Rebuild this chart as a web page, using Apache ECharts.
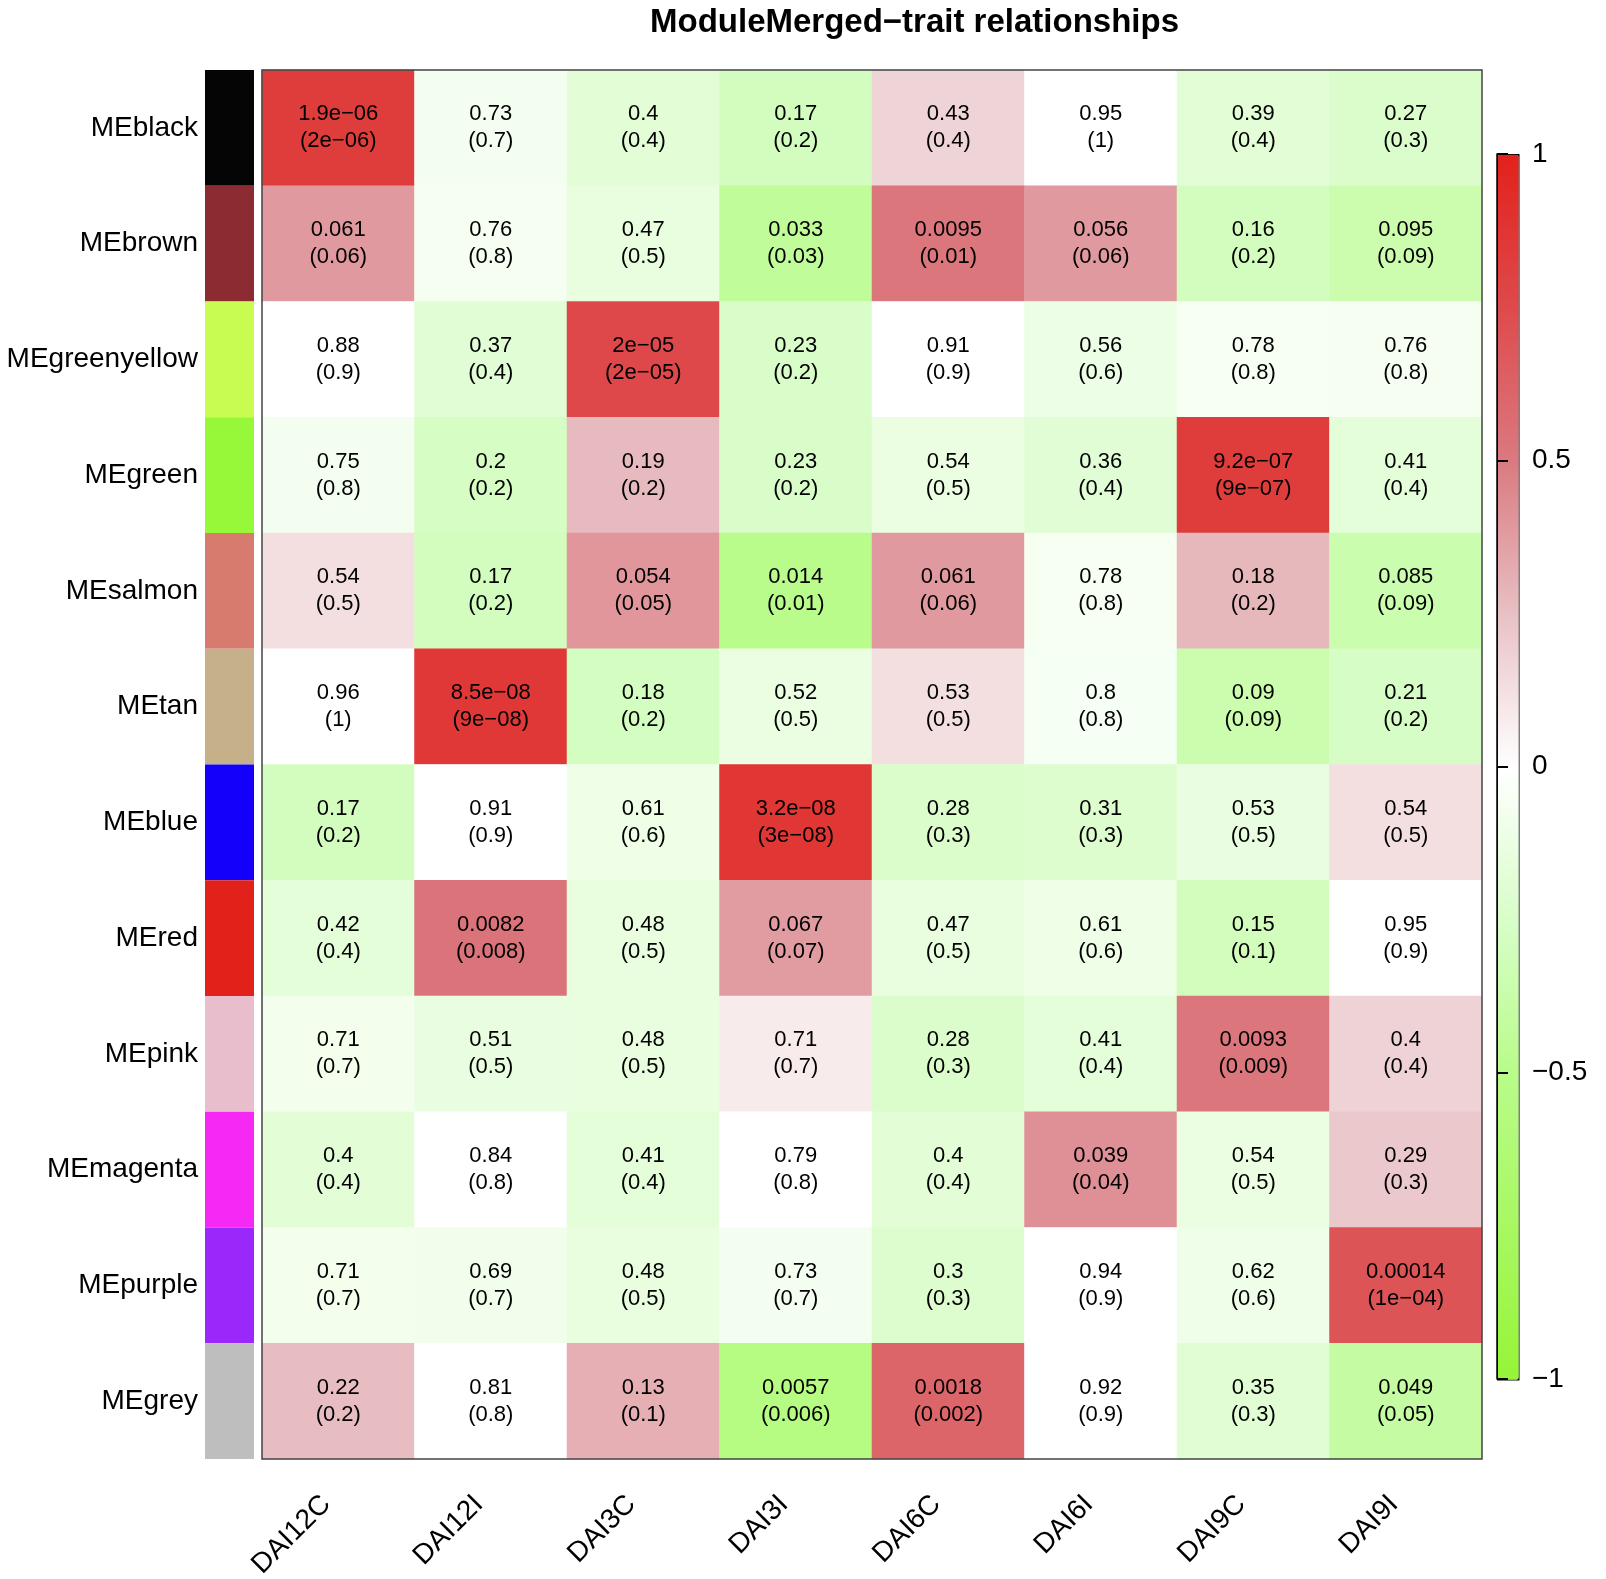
<!DOCTYPE html>
<html>
<head>
<meta charset="utf-8">
<title>ModuleMerged-trait relationships</title>
<script src="https://cdn.jsdelivr.net/npm/echarts@6/dist/echarts.min.js"></script>
<style>
  html, body { margin: 0; padding: 0; background: #fff; }
  #main { width: 1606px; height: 1579px; }
</style>
</head>
<body>
<div id="main"></div>
<script>
// rows (modules) top to bottom, columns (traits) left to right
var modules = ['MEblack', 'MEbrown', 'MEgreenyellow', 'MEgreen', 'MEsalmon', 'MEtan',
               'MEblue', 'MEred', 'MEpink', 'MEmagenta', 'MEpurple', 'MEgrey'];
var moduleColors = ['#050505', '#8c2b32', '#c8fc50', '#96f838', '#d67b6e', '#c6b08a',
                    '#1400fa', '#e2211b', '#e8becd', '#f628f4', '#9b28fa', '#bebebe'];
var traits = ['DAI12C', 'DAI12I', 'DAI3C', 'DAI3I', 'DAI6C', 'DAI6I', 'DAI9C', 'DAI9I'];

// module-trait correlation
var cor = [
    [ 0.83, -0.07, -0.18, -0.29,  0.17,  0,    -0.18, -0.23],
    [ 0.39, -0.065, -0.15, -0.44, 0.52,  0.39, -0.29, -0.35],
    [ 0,    -0.19,  0.76, -0.25,  0,    -0.12, -0.06, -0.065],
    [-0.07, -0.27,  0.27, -0.25, -0.13, -0.19,  0.83, -0.17],
    [ 0.13, -0.29,  0.40, -0.49,  0.39, -0.06,  0.28, -0.36],
    [ 0,     0.86, -0.28, -0.13,  0.13, -0.055, -0.35, -0.26],
    [-0.29,  0,    -0.11,  0.87, -0.23, -0.22, -0.14,  0.13],
    [-0.17,  0.53, -0.15,  0.38, -0.15, -0.11, -0.30,  0],
    [-0.08, -0.14, -0.15,  0.08, -0.23, -0.17,  0.52,  0.18],
    [-0.18,  0,    -0.17,  0,    -0.18,  0.42, -0.13,  0.22],
    [-0.08, -0.085, -0.15, -0.07, -0.22, 0,    -0.10,  0.70],
    [ 0.26,  0,     0.31, -0.55,  0.61,  0,    -0.20, -0.40]
];

// p-values as printed (first line)
var pText = [
    ['1.9e−06', '0.73', '0.4', '0.17', '0.43', '0.95', '0.39', '0.27'],
    ['0.061', '0.76', '0.47', '0.033', '0.0095', '0.056', '0.16', '0.095'],
    ['0.88', '0.37', '2e−05', '0.23', '0.91', '0.56', '0.78', '0.76'],
    ['0.75', '0.2', '0.19', '0.23', '0.54', '0.36', '9.2e−07', '0.41'],
    ['0.54', '0.17', '0.054', '0.014', '0.061', '0.78', '0.18', '0.085'],
    ['0.96', '8.5e−08', '0.18', '0.52', '0.53', '0.8', '0.09', '0.21'],
    ['0.17', '0.91', '0.61', '3.2e−08', '0.28', '0.31', '0.53', '0.54'],
    ['0.42', '0.0082', '0.48', '0.067', '0.47', '0.61', '0.15', '0.95'],
    ['0.71', '0.51', '0.48', '0.71', '0.28', '0.41', '0.0093', '0.4'],
    ['0.4', '0.84', '0.41', '0.79', '0.4', '0.039', '0.54', '0.29'],
    ['0.71', '0.69', '0.48', '0.73', '0.3', '0.94', '0.62', '0.00014'],
    ['0.22', '0.81', '0.13', '0.0057', '0.0018', '0.92', '0.35', '0.049']
];

// rounded p-values (second line, in brackets)
var pRound = [
    ['2e−06', '0.7', '0.4', '0.2', '0.4', '1', '0.4', '0.3'],
    ['0.06', '0.8', '0.5', '0.03', '0.01', '0.06', '0.2', '0.09'],
    ['0.9', '0.4', '2e−05', '0.2', '0.9', '0.6', '0.8', '0.8'],
    ['0.8', '0.2', '0.2', '0.2', '0.5', '0.4', '9e−07', '0.4'],
    ['0.5', '0.2', '0.05', '0.01', '0.06', '0.8', '0.2', '0.09'],
    ['1', '9e−08', '0.2', '0.5', '0.5', '0.8', '0.09', '0.2'],
    ['0.2', '0.9', '0.6', '3e−08', '0.3', '0.3', '0.5', '0.5'],
    ['0.4', '0.008', '0.5', '0.07', '0.5', '0.6', '0.1', '0.9'],
    ['0.7', '0.5', '0.5', '0.7', '0.3', '0.4', '0.009', '0.4'],
    ['0.4', '0.8', '0.4', '0.8', '0.4', '0.04', '0.5', '0.3'],
    ['0.7', '0.7', '0.5', '0.7', '0.3', '0.9', '0.6', '1e−04'],
    ['0.2', '0.8', '0.1', '0.006', '0.002', '0.9', '0.3', '0.05']
];

var FONT = '"Liberation Sans", Arial, Helvetica, sans-serif';

function drawChart(eleId) {
    var myChart = echarts.init(document.getElementById(eleId));

    var cells = [];
    for (var i = 0; i < modules.length; i++) {
        for (var j = 0; j < traits.length; j++) {
            cells.push([j, i, cor[i][j]]);
        }
    }

    var strip = moduleColors.map(function (c) {
        return { value: 1, itemStyle: { color: c } };
    });

    var option = {
        backgroundColor: '#fff',
        animation: false,
        textStyle: { fontFamily: FONT },
        title: {
            text: 'ModuleMerged−trait relationships',
            left: 645,
            top: 1,
            textStyle: { fontSize: 33, fontWeight: 'bold', color: '#000', fontFamily: FONT }
        },
        grid: [
            { left: 262, top: 70, width: 1220, height: 1389, show: true, z: 5,
              outerBoundsMode: 'none', containLabel: false,
              backgroundColor: 'transparent', borderColor: '#444', borderWidth: 1.5 },
            { left: 205, top: 70, width: 49, height: 1389, outerBoundsMode: 'none' },
            { left: 1497, top: 154, width: 21, height: 1225, outerBoundsMode: 'none' }
        ],
        xAxis: [
            {
                type: 'category', gridIndex: 0, data: traits, position: 'bottom',
                axisLine: { show: false }, axisTick: { show: false },
                splitLine: { show: false },
                axisLabel: { rotate: 45, margin: 29, interval: 0, fontSize: 28, color: '#000',
                             fontFamily: FONT, padding: [0, 17, 0, 0] }
            },
            { type: 'value', gridIndex: 1, min: 0, max: 1, show: false },
            { type: 'value', gridIndex: 2, min: 0, max: 1, show: false }
        ],
        yAxis: [
            {
                type: 'category', gridIndex: 0, data: modules, inverse: true,
                axisLine: { show: false }, axisTick: { show: false },
                splitLine: { show: false },
                axisLabel: { margin: 64, fontSize: 28, color: '#000', fontFamily: FONT }
            },
            { type: 'category', gridIndex: 1, data: modules, inverse: true, show: false },
            {
                type: 'value', gridIndex: 2, min: -1, max: 1, interval: 0.5, position: 'right',
                z: 10,
                axisLine: { show: true, lineStyle: { color: '#000', width: 1.5 } },
                axisTick: { show: true, inside: false, length: 11, lineStyle: { color: '#000', width: 2 } },
                splitLine: { show: false },
                axisLabel: {
                    margin: 14, fontSize: 28, color: '#000', fontFamily: FONT,
                    formatter: function (v) { return String(v).replace('-', '−'); }
                }
            }
        ],
        visualMap: {
            type: 'continuous',
            min: -1,
            max: 1,
            seriesIndex: 0,
            calculable: false,
            hoverLink: false,
            orient: 'vertical',
            left: 1497,
            top: 154,
            itemWidth: 21,
            itemHeight: 1225,
            padding: 0,
            borderColor: '#000',
            borderWidth: 1.5,
            inRange: {
                color: ['#96f537', '#a8f862', '#b9fc8a', '#d8fdc8', '#ffffff',
                        '#e8c0c4', '#da7a80', '#de4a4c', '#e2211b']
            }
        },
        series: [
            {
                name: 'cor',
                type: 'heatmap',
                xAxisIndex: 0,
                yAxisIndex: 0,
                data: cells,
                emphasis: { disabled: true },
                label: {
                    show: true,
                    fontSize: 22,
                    lineHeight: 27,
                    color: '#000',
                    fontFamily: FONT,
                    padding: [4, 0, 0, 0],
                    formatter: function (p) {
                        var j = p.value[0], i = p.value[1];
                        return pText[i][j] + '\n(' + pRound[i][j] + ')';
                    }
                }
            },
            {
                name: 'module',
                type: 'bar',
                xAxisIndex: 1,
                yAxisIndex: 1,
                barWidth: '100%',
                data: strip,
                silent: true
            }
        ]
    };

    myChart.setOption(option);
}

drawChart('main');
</script>
</body>
</html>
